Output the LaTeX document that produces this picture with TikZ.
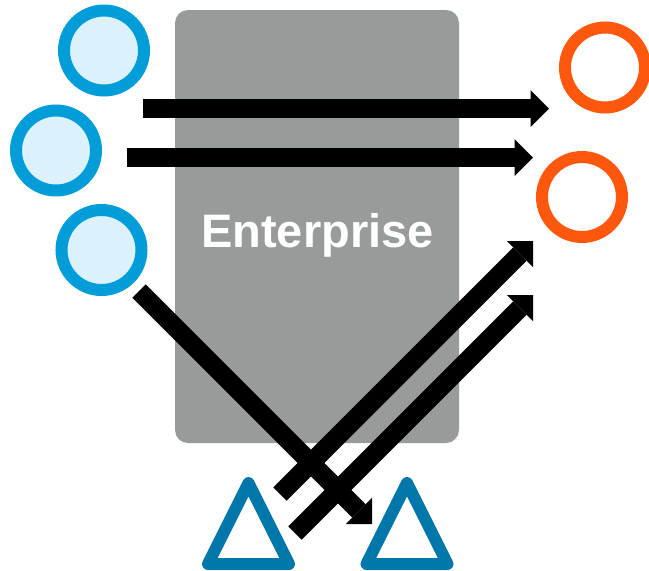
\documentclass[tikz,border=0pt]{standalone}
\usepackage{fontspec}
\setmainfont{Liberation Sans}
\usetikzlibrary{arrows.meta}
\definecolor{srcblue}{RGB}{0,157,217}
\definecolor{srcfill}{RGB}{219,241,251}
\definecolor{dstorange}{RGB}{255,88,14}
\definecolor{devblue}{RGB}{0,119,170}
\definecolor{entgray}{RGB}{151,155,154}
\begin{document}
\begin{tikzpicture}[x=1pt,y=-1pt,
  src/.style={circle,draw=srcblue,fill=srcfill,line width=12pt,minimum size=80pt,inner sep=0pt},
  dst/.style={circle,draw=dstorange,line width=12pt,minimum size=80pt,inner sep=0pt},
  dev/.style={draw=devblue,line width=12pt,line join=round},
  flow/.style={line width=19pt,-{Triangle[length=18.5pt,width=37pt,line width=0pt]}}]
\useasboundingbox (0,0) rectangle (649,571);

% Enterprise box
\draw[fill=entgray,draw=none,rounded corners=13pt] (175,10) rectangle (459,443);
\node[anchor=base,text=white,font=\fontsize{47}{47}\selectfont\bfseries] (ent) at (317.5,247) {Enterprise};

% Sources
\foreach \n/\x/\y in {s1/104/50.5,s2/56/150.5,s3/101.5/250} {
  \node[src] (\n) at (\x,\y) {};
}

% Targets
\foreach \n/\x/\y in {t1/605/67.5,t2/582/197} {
  \node[dst] (\n) at (\x,\y) {};
}

% Arrow ends
\coordinate (a1) at (143,108.5); \coordinate (b1) at (549,108.5);
\coordinate (a2) at (127,157.5); \coordinate (b2) at (533,157.5);
\coordinate (a3) at (139,291);   \coordinate (b3) at (372,524);
\coordinate (a4) at (280,494);   \coordinate (b4) at (533,241);
\coordinate (a5) at (295,533);   \coordinate (b5) at (533,295);

% Flows
\foreach \i in {1,...,5} {
  \draw[flow] (a\i) -- (b\i);
}

% Devices
\foreach \x in {248.5,407} {
  \draw[dev] (\x,483) -- (\x-40.5,564) -- (\x+40.5,564) -- cycle;
}

\end{tikzpicture}
\end{document}
